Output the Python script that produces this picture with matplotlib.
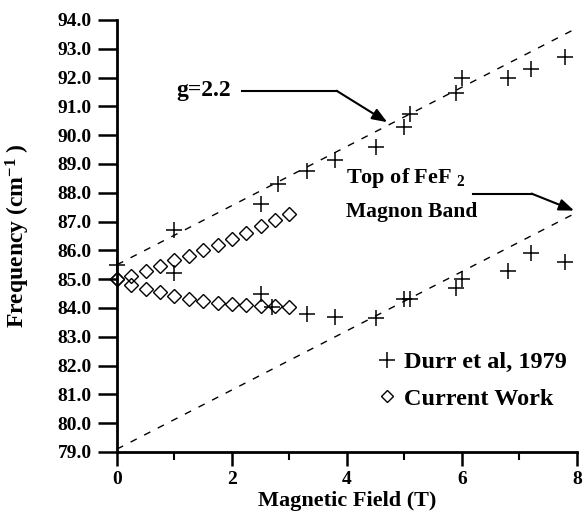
import matplotlib
matplotlib.use('Agg')
import matplotlib.pyplot as plt
from matplotlib.ticker import MultipleLocator, FormatStrFormatter
from matplotlib.lines import Line2D

plt.rcParams['font.family'] = 'Liberation Serif'
plt.rcParams['font.weight'] = 'bold'
plt.rcParams['axes.labelweight'] = 'bold'
plt.rcParams['mathtext.fontset'] = 'custom'
plt.rcParams['mathtext.rm'] = 'Liberation Serif:bold'
plt.rcParams['mathtext.it'] = 'Liberation Serif:bold'
plt.rcParams['mathtext.bf'] = 'Liberation Serif:bold'

# Durr et al, 1979 - upper and lower branches
durr_upper_x = [0.0, 1.0, 2.5, 2.8, 3.3, 3.8, 4.5, 5.0, 5.1, 5.9, 6.0, 6.8, 7.2, 7.8]
durr_upper_y = [85.5, 86.7, 87.6, 88.3, 88.75, 89.15, 89.6, 90.3, 90.75, 91.45, 92.0, 92.0, 92.3, 92.7]
durr_lower_x = [1.0, 2.5, 2.7, 3.3, 3.8, 4.5, 5.0, 5.1, 5.9, 6.0, 6.8, 7.2, 7.8]
durr_lower_y = [85.2, 84.5, 84.05, 83.8, 83.7, 83.65, 84.3, 84.3, 84.7, 85.0, 85.3, 85.9, 85.6]

# current work
cw_x = [0.0, 0.25, 0.5, 0.75, 1.0, 1.25, 1.5, 1.75, 2.0, 2.25, 2.5, 2.75, 3.0]
cw_upper = [85.0, 85.12, 85.3, 85.46, 85.66, 85.82, 86.0, 86.19, 86.39, 86.6, 86.84, 87.05, 87.27]
cw_lower = [85.0, 84.8, 84.65, 84.55, 84.42, 84.3, 84.23, 84.18, 84.13, 84.1, 84.07, 84.06, 84.05]

# g=2.2 lines
line_x = [0, 8]
g22_y = [85.5, 93.72]
band_top_y = [79.1, 87.32]

fig = plt.figure(figsize=(5.84, 5.11), dpi=100)
ax = fig.add_axes([0.2003, 0.1155, 0.7877, 0.8455])

ax.plot(line_x, g22_y, color='k', lw=1.0, dashes=(5, 6))
ax.plot(line_x, band_top_y, color='k', lw=1.0, dashes=(5, 6))

ax.plot(durr_upper_x, durr_upper_y, ls='none', marker='+', ms=11, mew=1.1, color='k', clip_on=False)
ax.plot(durr_lower_x, durr_lower_y, ls='none', marker='+', ms=11, mew=1.1, color='k', clip_on=False)
ax.plot(cw_x, cw_upper, ls='none', marker='D', ms=7, mew=1.0, mfc='none', mec='k', clip_on=False)
ax.plot(cw_x, cw_lower, ls='none', marker='D', ms=7, mew=1.0, mfc='none', mec='k', clip_on=False)

ax.set_xlim(0, 8)
ax.set_ylim(79, 94)
ax.xaxis.set_major_locator(MultipleLocator(2))
ax.xaxis.set_minor_locator(MultipleLocator(1))
ax.yaxis.set_major_locator(MultipleLocator(1))
ax.yaxis.set_major_formatter(FormatStrFormatter('%.1f'))

ax.spines['top'].set_visible(False)
ax.spines['right'].set_visible(False)
ax.spines['left'].set_linewidth(2)
ax.spines['bottom'].set_linewidth(2)

ax.tick_params(axis='y', direction='out', length=14, width=1.8, pad=4, labelsize=14)
ax.tick_params(axis='x', which='major', direction='out', length=10, width=1.8, pad=4, labelsize=14)
ax.tick_params(axis='x', which='minor', direction='out', length=6, width=1.5)

ax.set_xlabel('Magnetic Field (T)', fontsize=16, fontweight='bold')
ax.xaxis.set_label_coords(0.5, -0.09)
ax.set_ylabel('Frequency (cm$^{-1}$ )', fontsize=17, fontweight='bold')
ax.yaxis.set_label_coords(-0.185, 0.5)

# g=2.2 label and arrow
ax.text(1.03, 91.55, 'g=2.2', fontsize=17, ha='left', va='center')
ax.plot([2.17, 3.82], [91.54, 91.54], color='k', lw=1.5)
ax.annotate('', xy=(4.7, 90.45), xytext=(3.82, 91.54),
            arrowprops=dict(arrowstyle='-|>,head_length=0.9,head_width=0.35',
                            color='k', lw=1.5, shrinkA=0, shrinkB=0))

# band top label and arrow
ax.text(3.99, 88.5, 'Top of FeF $_{2}$', fontsize=16, ha='left', va='center')
ax.text(3.99, 87.34, 'Magnon Band', fontsize=15.5, ha='left', va='center')
ax.plot([6.19, 7.21], [87.97, 87.97], color='k', lw=1.5)
ax.annotate('', xy=(7.95, 87.38), xytext=(7.21, 87.97),
            arrowprops=dict(arrowstyle='-|>,head_length=0.9,head_width=0.35',
                            color='k', lw=1.5, shrinkA=0, shrinkB=0))

handles = [Line2D([], [], ls='none', marker='+', ms=11, mew=1.1, color='k'),
           Line2D([], [], ls='none', marker='D', ms=6, mew=1.0, mfc='none', mec='k')]
ax.legend(handles, ['Durr et al, 1979', 'Current Work'], loc='lower right',
          bbox_to_anchor=(1.0, 0.075), frameon=False, fontsize=17.5,
          handlelength=0.8, handletextpad=0.3, labelspacing=0.6, borderaxespad=0)

fig.savefig('out.png', dpi=100)
